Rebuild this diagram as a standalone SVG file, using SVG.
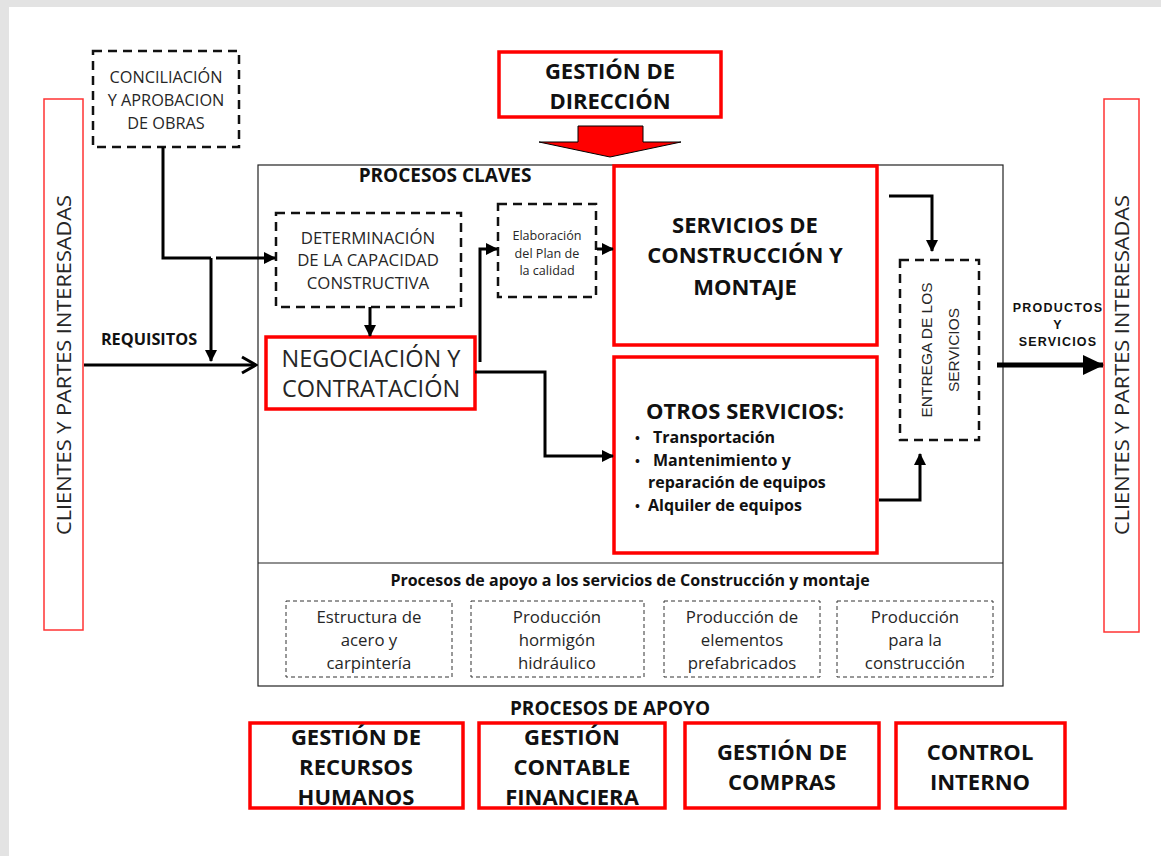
<svg xmlns="http://www.w3.org/2000/svg" width="1161" height="856" viewBox="0 0 1161 856">
<defs>
<style>
.t{font-family:"Open Sans",Lato,"Liberation Sans",sans-serif;fill:#262626;text-anchor:middle}
.b{font-weight:bold;fill:#111}
.a{font-family:"Liberation Sans",Arial,sans-serif}
.red{fill:#fff;stroke:#f00;stroke-width:3.5}
.thinred{fill:#fff;stroke:#f33;stroke-width:1.5}
.dash{fill:#fff;stroke:#111;stroke-width:2.5;stroke-dasharray:9 6}
.sdash{fill:#fff;stroke:#333;stroke-width:1;stroke-dasharray:4 3}
.c{fill:none;stroke:#000;stroke-width:3}
</style>
<marker id="ah" markerUnits="userSpaceOnUse" markerWidth="14" markerHeight="14" refX="12" refY="7" orient="auto">
<path d="M1,1 L13,7 L1,13 Z" fill="#000"/>
</marker>
<marker id="ao" markerUnits="userSpaceOnUse" markerWidth="18" markerHeight="20" refX="16" refY="10" orient="auto">
<path d="M2,2 L16,10 L2,18" fill="none" stroke="#000" stroke-width="3"/>
</marker>
<marker id="ab" markerUnits="userSpaceOnUse" markerWidth="22" markerHeight="22" refX="20" refY="11" orient="auto">
<path d="M0,1 L21,11 L0,21 Z" fill="#000"/>
</marker>
</defs>
<rect x="0" y="0" width="1161" height="856" fill="#e3e3e3"/>
<rect x="9" y="7" width="1152" height="849" fill="#fff"/>

<g id="main-frame">
<rect x="258" y="165" width="745" height="521" fill="none" stroke="#222" stroke-width="1.2"/>
<line x1="258" y1="563" x2="1003" y2="563" stroke="#222" stroke-width="1.2"/>
<text class="t b" x="445" y="182" font-size="19">PROCESOS CLAVES</text>
</g>

<g id="clientes-left">
<rect class="thinred" x="44" y="99" width="39" height="531"/>
<text class="t" transform="translate(71,365) rotate(-90)" font-size="20" textLength="340" lengthAdjust="spacingAndGlyphs">CLIENTES Y PARTES INTERESADAS</text>
</g>

<g id="clientes-right">
<rect class="thinred" x="1104" y="99" width="35" height="533"/>
<text class="t" transform="translate(1129,365) rotate(-90)" font-size="20" textLength="340" lengthAdjust="spacingAndGlyphs">CLIENTES Y PARTES INTERESADAS</text>
</g>

<g id="conciliacion">
<rect class="dash" x="93" y="51" width="146" height="96"/>
<text class="t" font-size="16.3"><tspan x="166" y="83">CONCILIACIÓN</tspan><tspan x="166" y="106">Y APROBACION</tspan><tspan x="166" y="129">DE OBRAS</tspan></text>
</g>

<g id="gestion-direccion">
<rect class="red" x="499" y="52" width="222" height="65"/>
<text class="t b" font-size="22"><tspan x="610" y="79">GESTIÓN DE</tspan><tspan x="610" y="109">DIRECCIÓN</tspan></text>
<path d="M578,126 L643,126 L643,142 L681,142 L610,157 L539,142 L578,142 Z" fill="#f00" stroke="#000" stroke-width="1"/>
</g>

<g id="determinacion">
<rect class="dash" x="276" y="213" width="185" height="94"/>
<text class="t" font-size="16.8"><tspan x="368" y="244">DETERMINACIÓN</tspan><tspan x="368" y="266">DE LA CAPACIDAD</tspan><tspan x="368" y="289">CONSTRUCTIVA</tspan></text>
</g>

<g id="elaboracion">
<rect class="dash" x="498" y="204" width="98" height="93"/>
<text class="t" font-size="12.6"><tspan x="547" y="240">Elaboración</tspan><tspan x="547" y="258">del Plan de</tspan><tspan x="547" y="275">la calidad</tspan></text>
</g>

<g id="servicios-construccion">
<rect class="red" x="614" y="166" width="263" height="179"/>
<text class="t b" font-size="22"><tspan x="745" y="233">SERVICIOS DE</tspan><tspan x="745" y="263">CONSTRUCCIÓN Y</tspan><tspan x="745" y="295">MONTAJE</tspan></text>
</g>

<g id="negociacion">
<rect class="red" x="266" y="337" width="209" height="72"/>
<text class="t" font-size="23.5"><tspan x="371" y="367">NEGOCIACIÓN Y</tspan><tspan x="371" y="397">CONTRATACIÓN</tspan></text>
</g>

<g id="otros-servicios">
<rect class="red" x="614" y="357" width="263" height="196"/>
<text class="t b" x="745" y="419" font-size="22">OTROS SERVICIOS:</text>
<g class="t b" font-size="16" style="text-anchor:start">
<text x="635" y="443" font-size="13">•</text><text x="653" y="443">Transportación</text>
<text x="635" y="466" font-size="13">•</text><text x="653" y="466">Mantenimiento y</text>
<text x="648" y="488">reparación de equipos</text>
<text x="635" y="511" font-size="13">•</text><text x="648" y="511">Alquiler de equipos</text>
</g>
</g>

<g id="entrega">
<rect class="dash" x="900" y="260" width="79" height="180"/>
<text class="t a" font-size="15.5" transform="translate(932,350) rotate(-90)">ENTREGA DE LOS</text>
<text class="t a" font-size="15.5" transform="translate(959,350) rotate(-90)">SERVICIOS</text>
</g>

<g id="apoyo-servicios">
<text class="t b" x="630" y="586" font-size="16">Procesos de apoyo a los servicios de Construcción y montaje</text>
<rect class="sdash" x="286" y="601" width="166" height="76"/>
<text class="t" font-size="16.8"><tspan x="369" y="623">Estructura de</tspan><tspan x="369" y="646">acero y</tspan><tspan x="369" y="669">carpintería</tspan></text>
<rect class="sdash" x="471" y="601" width="173" height="76"/>
<text class="t" font-size="16.8"><tspan x="557" y="623">Producción</tspan><tspan x="557" y="646">hormigón</tspan><tspan x="557" y="669">hidráulico</tspan></text>
<rect class="sdash" x="664" y="601" width="156" height="76"/>
<text class="t" font-size="16.8"><tspan x="742" y="623">Producción de</tspan><tspan x="742" y="646">elementos</tspan><tspan x="742" y="669">prefabricados</tspan></text>
<rect class="sdash" x="837" y="601" width="156" height="76"/>
<text class="t" font-size="16.8"><tspan x="915" y="623">Producción</tspan><tspan x="915" y="646">para la</tspan><tspan x="915" y="669">construcción</tspan></text>
</g>

<g id="procesos-apoyo">
<text class="t b" x="610" y="715" font-size="19">PROCESOS DE APOYO</text>
</g>
<g id="rrhh">
<rect class="red" x="250" y="723" width="213" height="85"/>
<text class="t b" font-size="22"><tspan x="356" y="745">GESTIÓN DE</tspan><tspan x="356" y="775">RECURSOS</tspan><tspan x="356" y="805">HUMANOS</tspan></text>
</g>
<g id="contable">
<rect class="red" x="479" y="723" width="186" height="85"/>
<text class="t b" font-size="22"><tspan x="572" y="745">GESTIÓN</tspan><tspan x="572" y="775">CONTABLE</tspan><tspan x="572" y="805">FINANCIERA</tspan></text>
</g>
<g id="compras">
<rect class="red" x="685" y="723" width="194" height="85"/>
<text class="t b" font-size="22"><tspan x="782" y="760">GESTIÓN DE</tspan><tspan x="782" y="790">COMPRAS</tspan></text>
</g>
<g id="control">
<rect class="red" x="896" y="723" width="169" height="85"/>
<text class="t b" font-size="22"><tspan x="980" y="760">CONTROL</tspan><tspan x="980" y="790">INTERNO</tspan></text>
</g>

<g id="connectors">
<path class="c" d="M163,147 L163,258 L211,258"/>
<path class="c" d="M211,258 L211,361" marker-end="url(#ah)"/>
<path class="c" d="M216,258 L275,258" marker-end="url(#ah)"/>
<path class="c" d="M84,365 L256,365" marker-end="url(#ao)"/>
<text class="t b" x="149" y="345" font-size="16.3">REQUISITOS</text>
<path class="c" d="M370,307 L370,336" marker-end="url(#ah)"/>
<path class="c" d="M480,362 L480,249 L497,249" marker-end="url(#ah)"/>
<path class="c" d="M597,249 L613,249" marker-end="url(#ah)"/>
<path class="c" d="M475,372 L545,372 L545,456 L613,456" marker-end="url(#ah)"/>
<path class="c" d="M889,196 L932,196 L932,251" marker-end="url(#ah)"/>
<path class="c" d="M879,500 L920,500 L920,454" marker-end="url(#ah)"/>
<path d="M997,365 L1103,365" fill="none" stroke="#000" stroke-width="5" marker-end="url(#ab)"/>
<text class="t b a" font-size="12.5" letter-spacing="1.2"><tspan x="1058" y="312">PRODUCTOS</tspan><tspan x="1058" y="329">Y</tspan><tspan x="1058" y="346">SERVICIOS</tspan></text>
</g>
</svg>
